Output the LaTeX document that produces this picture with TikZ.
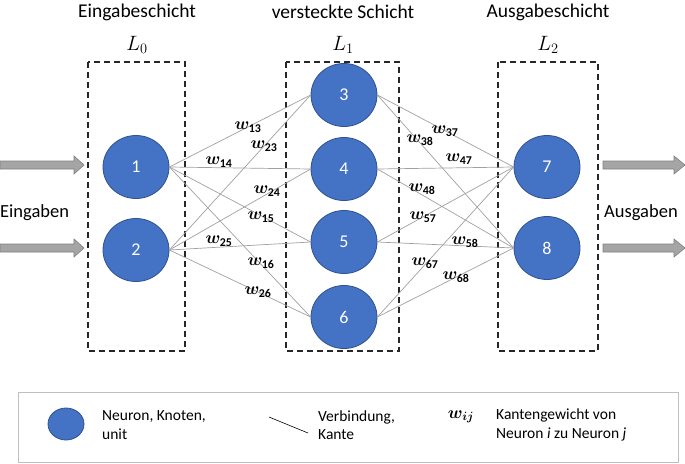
\documentclass[tikz,border=0pt]{standalone}
\usepackage{fontspec}
\setmainfont{Carlito}
\usepackage{amsmath,bm}
\usetikzlibrary{shapes.geometric}
\definecolor{nfill}{HTML}{4472C4}
\definecolor{nborder}{HTML}{2F528F}
\definecolor{edgegray}{HTML}{A0A0A0}
\definecolor{arrfill}{HTML}{A5A5A5}
\definecolor{arrdraw}{HTML}{7F7F7F}
\definecolor{legdraw}{HTML}{BFBFBF}
\newcommand{\wlab}[1]{$\boldsymbol{w}_{\mathbf{#1}}$}
\tikzset{
  neuron/.style={ellipse, fill=nfill, draw=nborder, line width=0.8pt, minimum width=66pt, minimum height=63pt, inner sep=0pt, text=white, font=\fontsize{18}{20}\selectfont},
  conn/.style={draw=edgegray, line width=0.7pt},
  layerbox/.style={draw=black!85, dash pattern=on 6pt off 4pt, line width=1.3pt},
  title/.style={font=\fontsize{19.5}{22}\selectfont, inner sep=0pt},
  lname/.style={font=\fontsize{20}{22}\selectfont, inner sep=0pt},
  wl/.style={font=\fontsize{17}{19}\selectfont, inner sep=0pt},
  fatarrow/.style={fill=arrfill, draw=arrdraw, line width=0.6pt},
  legtext/.style={font=\fontsize{15.5}{18.5}\selectfont, align=left, anchor=west, inner sep=0pt}
}
\begin{document}
\begin{tikzpicture}[x=1pt,y=-1pt]
\useasboundingbox (0,0) rectangle (685,463);
% titles
\node[title] (t0) at (137,12) {Eingabeschicht};
\node[title] (t1) at (343,12) {versteckte Schicht};
\node[title] (t2) at (548,12) {Ausgabeschicht};
\node[lname] (l0) at (137,45) {$L_0$};
\node[lname] (l1) at (343,45) {$L_1$};
\node[lname] (l2) at (548,45) {$L_2$};
% boxes
\draw[layerbox] (88,62) rectangle (185,351);
\draw[layerbox] (286,62) rectangle (399,351);
\draw[layerbox] (498,62) rectangle (598,351);
% neurons
\node[neuron] (n1) at (136,167) {1};
\node[neuron] (n2) at (136,250) {2};
\node[neuron] (n3) at (344,95) {3};
\node[neuron] (n4) at (344,169) {4};
\node[neuron] (n5) at (344,242) {5};
\node[neuron] (n6) at (344,317) {6};
\node[neuron] (n7) at (547,167) {7};
\node[neuron] (n8) at (547,248) {8};
% connections
\foreach \a in {n1,n2}{\foreach \b in {n3,n4,n5,n6}{\draw[conn] (\a.east) -- (\b.west);}}
\foreach \a in {n3,n4,n5,n6}{\foreach \b in {n7,n8}{\draw[conn] (\a.east) -- (\b.west);}}
% weights
\node[wl] (w13) at (248,127) {\wlab{13}};
\node[wl] (w23) at (264,146) {\wlab{23}};
\node[wl] (w14) at (219,162) {\wlab{14}};
\node[wl] (w24) at (267,191) {\wlab{24}};
\node[wl] (w15) at (261,217) {\wlab{15}};
\node[wl] (w25) at (219,241) {\wlab{25}};
\node[wl] (w16) at (261,263) {\wlab{16}};
\node[wl] (w26) at (258,292) {\wlab{26}};
\node[wl] (w37) at (445,131) {\wlab{37}};
\node[wl] (w38) at (420,140) {\wlab{38}};
\node[wl] (w47) at (459,159) {\wlab{47}};
\node[wl] (w48) at (422,189) {\wlab{48}};
\node[wl] (w57) at (423,217) {\wlab{57}};
\node[wl] (w58) at (465,242) {\wlab{58}};
\node[wl] (w67) at (425,263) {\wlab{67}};
\node[wl] (w68) at (456,277) {\wlab{68}};
% in/out arrows
\foreach \y in {165,248}{
  \draw[fatarrow] (0,\y-4) -- (74,\y-4) -- (74,\y-9) -- (84,\y) -- (74,\y+9) -- (74,\y+4) -- (0,\y+4) -- cycle;
  \draw[fatarrow] (603,\y-4) -- (674,\y-4) -- (674,\y-9) -- (685,\y) -- (674,\y+9) -- (674,\y+4) -- (603,\y+4) -- cycle;
}
\node[title, anchor=west, font=\fontsize{18.5}{20}\selectfont] (ein) at (0,213) {Eingaben};
\node[title, anchor=west, font=\fontsize{18.5}{20}\selectfont] (aus) at (604,213) {Ausgaben};
% legend
\draw[draw=legdraw, line width=0.8pt] (18,392) rectangle (678,462);
\node[neuron, minimum width=36pt, minimum height=32pt] (lgn) at (66,424) {};
\node[legtext] (lgt1) at (102,425) {Neuron, Knoten,\\unit};
\coordinate (lga) at (269,417);
\coordinate (lgb) at (308,433);
\draw[black, line width=0.6pt] (lga) -- (lgb);
\node[legtext] (lgt2) at (318,425) {Verbindung,\\Kante};
\node[font=\fontsize{17}{19}\selectfont, inner sep=0pt] (lgw) at (461,417) {$\boldsymbol{w_{ij}}$};
\node[legtext] (lgt3) at (496,425) {Kantengewicht von\\Neuron \textit{i} zu Neuron \textit{j}};
\end{tikzpicture}
\end{document}
